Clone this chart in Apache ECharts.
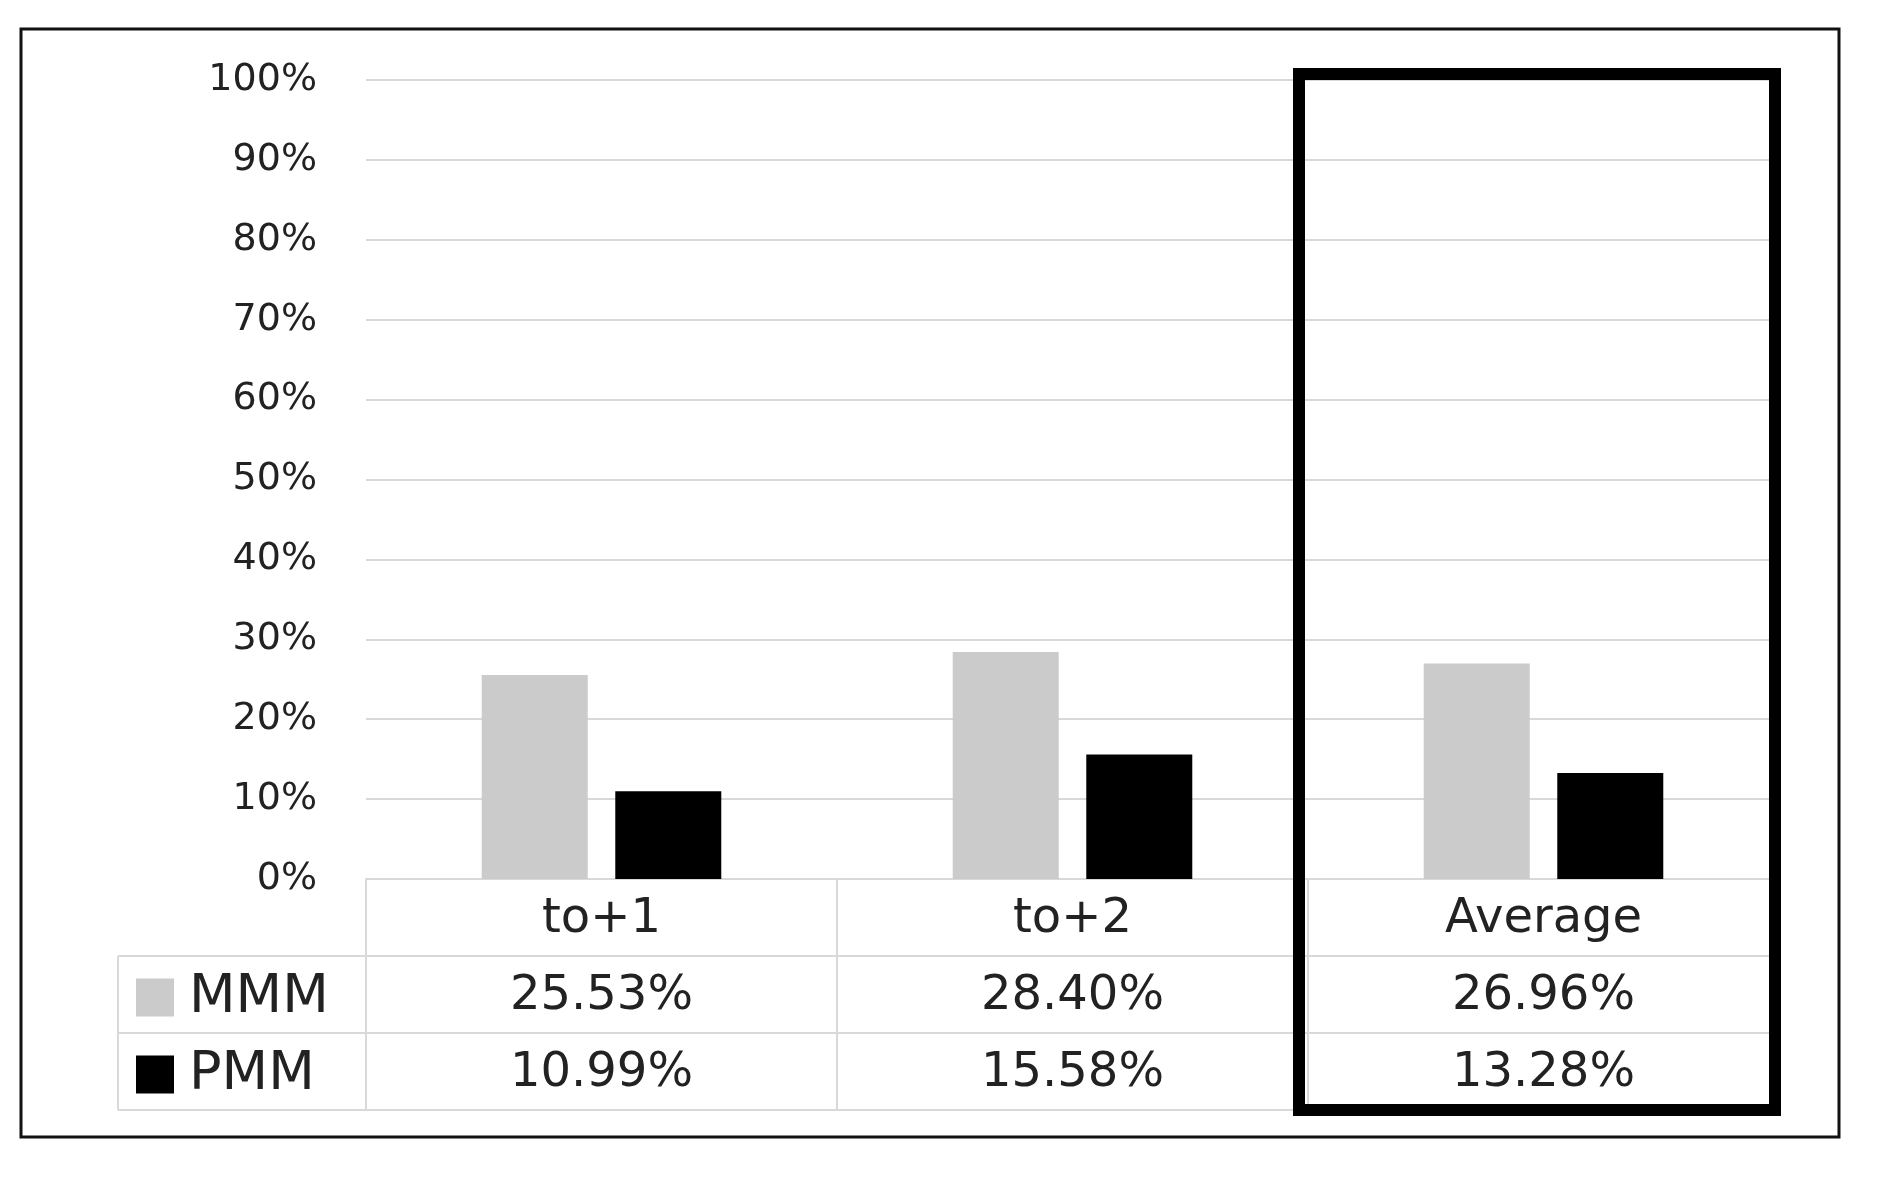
<!DOCTYPE html>
<html>
<head>
<meta charset="utf-8">
<script src="https://cdn.jsdelivr.net/npm/echarts@6/dist/echarts.min.js"></script>
<style>
    html, body { margin: 0; padding: 0; background: #fff; }
    #chart { width: 1888px; height: 1187px; }
</style>
</head>
<body>
<div id="chart"></div>
<script>
// data
let categories = ['to+1', 'to+2', 'Average'];
let seriesNames = ['MMM', 'PMM'];
let mmmValues = [25.53, 28.40, 26.96];
let pmmValues = [10.99, 15.58, 13.28];
let yMin = 0;
let yMax = 100;
let yStep = 10;

(function() {
    let chartDom = document.getElementById('chart');
    let myChart = echarts.init(chartDom);
    let font = 'DejaVu Sans';
    let textColor = '#222';
    let lineGray = '#d9d9d9';
    let rowH = 77;          // height of one data-table row
    let gridBottom = 308;

    function pct(v) {
        return v.toFixed(2) + '%';
    }

    // the data table under the plot is drawn as extra x axes, one per row
    function tableAxis(k, labels) {
        return {
            type: 'category',
            position: 'bottom',
            offset: k * rowH,
            data: categories,
            axisLine: { show: true, lineStyle: { color: lineGray, width: 2 } },
            axisTick: { show: false },
            splitLine: { show: false },
            axisLabel: {
                show: !!labels,
                interval: 0,
                margin: 41,
                verticalAlign: 'middle',
                fontFamily: font,
                fontSize: 48,
                color: textColor,
                formatter: function(v, i) {
                    return labels ? labels[i] : '';
                }
            }
        };
    }

    let headerAxis = tableAxis(0, categories);
    // boundary ticks make the column dividers of the table
    headerAxis.axisTick = {
        show: true,
        interval: 0,
        alignWithLabel: false,
        length: 3 * rowH,
        lineStyle: { color: lineGray, width: 2 }
    };

    let option = {
        animation: false,
        grid: {
            left: 366,
            right: 109,
            top: 80,
            bottom: gridBottom,
            outerBoundsMode: 'none'
        },
        legend: {
            data: seriesNames,
            orient: 'vertical',
            left: 136,
            top: 1187 - gridBottom + rowH + rowH / 2 - 24,
            padding: 0,
            itemGap: 23,
            itemWidth: 38,
            itemHeight: 38,
            icon: 'rect',
            textStyle: {
                fontFamily: font,
                fontSize: 54,
                lineHeight: 48,
                color: textColor,
                padding: [0, 0, 0, 10]
            }
        },
        xAxis: [
            headerAxis,
            tableAxis(1, mmmValues.map(pct)),
            tableAxis(2, pmmValues.map(pct)),
            tableAxis(3, null)
        ],
        yAxis: {
            type: 'value',
            min: yMin,
            max: yMax,
            interval: yStep,
            axisLine: { show: false },
            axisTick: { show: false },
            axisLabel: {
                formatter: '{value}%',
                margin: 49,
                fontFamily: font,
                fontSize: 38,
                color: textColor
            },
            splitLine: { lineStyle: { color: lineGray, width: 2 } }
        },
        series: [{
                name: seriesNames[0],
                type: 'bar',
                barWidth: 106,
                barGap: '26%',
                data: mmmValues,
                itemStyle: { color: '#cbcbcb' }
            },
            {
                name: seriesNames[1],
                type: 'bar',
                barWidth: 106,
                barGap: '26%',
                data: pmmValues,
                itemStyle: { color: '#000' }
            }
        ]
    };
    myChart.setOption(option);

    // frame, legend-column cells and the highlight box, placed from the axes
    let c0 = myChart.convertToPixel({ xAxisIndex: 0 }, categories[0]);
    let c1 = myChart.convertToPixel({ xAxisIndex: 0 }, categories[1]);
    let cLast = myChart.convertToPixel({ xAxisIndex: 0 }, categories[categories.length - 1]);
    let band = c1 - c0;
    let y0 = myChart.convertToPixel({ yAxisIndex: 0 }, yMin);
    let yTop = myChart.convertToPixel({ yAxisIndex: 0 }, yMax);
    let plotLeft = c0 - band / 2;
    let tableLeft = 118;
    let tableBottom = y0 + 3 * rowH;

    let graphics = [{
        type: 'rect',
        shape: { x: 21, y: 29, width: 1818, height: 1108 },
        style: { fill: null, stroke: '#111', lineWidth: 3 },
        silent: true
    }];
    for (let k = 1; k <= 3; k++) {
        graphics.push({
            type: 'line',
            shape: { x1: tableLeft, y1: y0 + k * rowH, x2: plotLeft, y2: y0 + k * rowH },
            style: { stroke: lineGray, lineWidth: 2 },
            silent: true
        });
    }
    graphics.push({
        type: 'line',
        shape: { x1: tableLeft, y1: y0 + rowH, x2: tableLeft, y2: tableBottom },
        style: { stroke: lineGray, lineWidth: 2 },
        silent: true
    });
    graphics.push({
        type: 'rect',
        z: 100,
        shape: {
            x: cLast - band / 2 - 9,
            y: yTop - 6,
            width: band + 5,
            height: tableBottom - (yTop - 6)
        },
        style: { fill: null, stroke: '#000', lineWidth: 12 },
        silent: true
    });
    myChart.setOption({ graphic: graphics });

    window.addEventListener('resize', function() {
        myChart.resize();
    });
})();
</script>
</body>
</html>
